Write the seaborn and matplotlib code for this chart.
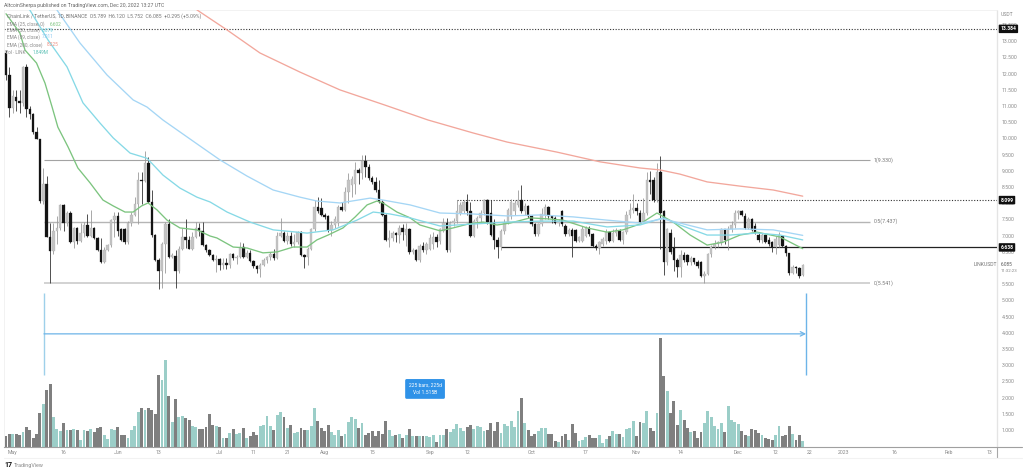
import pandas as pd
import matplotlib.pyplot as plt
from matplotlib.lines import Line2D
import seaborn as sns

# LINK/USDT daily candles
opens = [12.63,11.96,10.93,11.28,11.15,11.1,12.2,10.9,10.77,10.19,
 9.99,8.08,8.6,6.95,6.53,7.15,7.25,7.95,7.4,7.7,
 6.8,7.23,6.85,7.07,7.33,7.0,7.23,6.93,6.55,6.2,
 6.57,6.7,7.48,7.6,7.2,7.2,6.8,7.4,7.65,7.97,
 8.72,8.68,9.25,8.03,7.02,6.25,5.92,6.74,7.35,6.35,
 6.38,5.91,6.6,6.97,6.87,6.6,6.97,7.23,7.15,6.7,
 6.55,6.41,6.25,6.27,6.1,6.15,6.08,6.42,6.3,6.33,
 6.65,6.33,6.48,6.22,6.05,5.97,6.1,6.25,6.33,6.45,
 6.3,7.0,7.08,6.85,7.0,6.75,6.8,7.1,6.4,6.35,
 6.6,7.2,7.9,7.85,7.64,7.6,7.18,7.33,7.38,7.9,
 7.79,8.36,8.55,8.6,9.03,8.93,9.3,9.13,8.77,8.67,
 8.41,8.05,7.64,6.87,6.92,7.07,7.02,7.23,7.02,7.2,
 6.5,6.55,6.25,6.68,6.56,6.6,6.75,6.97,6.85,7.15,
 7.38,6.56,7.4,7.45,7.7,7.75,8.05,7.75,6.99,7.44,
 7.55,7.7,8.1,7.7,7.4,6.87,6.66,7.13,7.4,7.6,
 7.75,7.95,8.1,7.75,7.92,7.6,7.35,7.06,7.35,7.65,
 7.88,7.6,7.55,7.4,7.75,7.3,7.05,7.18,7.18,6.83,
 6.85,7.0,7.25,7.05,6.68,6.62,6.75,6.85,7.1,6.85,
 7.07,7.13,6.87,7.1,7.64,7.79,7.85,7.69,7.43,7.69,
 8.72,8.72,8.1,8.98,7.75,6.2,7.07,6.61,6.25,6.04,
 6.4,6.4,6.2,6.3,6.2,6.2,5.75,5.82,6.43,6.66,
 6.75,6.78,7.2,6.87,7.22,7.33,7.7,7.75,7.62,7.25,
 7.5,7.3,7.02,6.87,7.02,6.88,6.8,6.66,6.7,7.0,
 6.68,6.46,5.84,6.02,5.99,5.789]
closes = [11.96,10.93,11.3,11.15,11.1,12.2,10.9,10.77,10.19,9.99,
 8.08,8.6,6.95,6.53,7.15,7.25,7.95,7.4,7.7,6.8,
 7.23,6.85,7.07,7.33,7.0,7.23,6.93,6.55,6.2,6.57,
 6.7,7.48,7.6,7.15,6.87,6.8,7.4,7.65,7.97,8.72,
 8.68,9.25,8.03,7.02,6.25,5.92,6.74,7.35,6.35,6.38,
 5.91,6.6,6.97,6.87,6.6,6.97,7.23,7.15,6.7,6.55,
 6.41,6.25,6.27,6.1,6.15,6.08,6.42,6.3,6.33,6.65,
 6.33,6.48,6.22,6.05,5.97,6.1,6.25,6.33,6.45,6.3,
 7.0,7.08,6.85,7.0,6.75,6.8,7.1,6.4,6.35,6.6,
 7.2,7.9,7.75,7.64,7.57,7.18,7.33,7.5,7.9,7.79,
 8.36,8.72,8.74,9.03,8.93,9.3,9.13,8.77,8.67,8.41,
 8.05,7.64,6.87,6.92,7.07,7.02,7.23,7.1,7.2,6.5,
 6.55,6.25,6.68,6.56,6.75,6.92,6.97,6.8,7.2,7.38,
 6.56,7.4,7.45,7.75,7.95,8.05,7.75,6.99,7.44,7.55,
 7.7,8.1,7.42,7.03,6.87,6.66,7.13,7.4,7.8,8.05,
 8.0,8.1,7.75,7.92,7.6,7.35,7.06,7.35,7.68,7.88,
 7.6,7.55,7.4,7.42,7.35,7.05,7.18,6.99,6.83,6.95,
 7.2,7.25,7.05,6.68,6.62,6.8,6.9,7.1,6.85,7.07,
 7.18,6.87,7.1,7.64,7.79,7.85,7.75,7.43,7.69,8.72,
 8.65,8.1,8.98,7.7,6.2,7.2,6.51,6.25,6.04,6.4,
 6.25,6.2,6.3,6.2,6.05,5.75,5.82,6.43,6.66,6.75,
 6.78,7.2,6.87,7.22,7.33,7.7,7.75,7.65,7.25,7.5,
 7.17,7.12,6.87,7.02,6.82,6.75,6.66,6.9,7.02,6.68,
 6.46,5.84,6.02,5.99,5.76,6.085]
highs = [12.72,12.2,11.5,11.5,11.5,12.25,12.3,11.0,10.8,10.35,
 9.99,9.1,8.85,7.4,7.4,7.6,7.98,7.98,7.75,7.75,
 7.27,7.27,7.4,7.43,7.66,7.8,7.27,6.97,6.92,6.65,
 6.75,7.53,7.73,7.73,7.25,7.25,7.45,7.73,8.2,8.98,
 8.98,9.6,9.42,8.4,7.05,6.3,6.8,7.43,7.5,6.48,
 6.55,6.67,7.23,7.5,7.0,7.12,7.43,7.4,7.43,6.75,
 6.6,6.45,6.4,6.3,6.3,6.3,6.47,6.48,6.4,6.8,
 6.78,6.55,6.55,6.25,6.1,6.15,6.3,6.38,6.5,6.6,
 7.1,7.55,7.15,7.1,7.1,7.05,7.15,7.15,6.45,6.65,
 7.25,8.1,8.2,8.15,7.7,7.65,7.45,7.6,7.95,8.05,
 8.5,8.93,8.85,9.28,9.1,9.5,9.5,9.2,8.85,8.8,
 8.72,8.1,7.68,7.18,7.13,7.1,7.33,7.35,7.4,7.25,
 6.62,6.6,6.75,6.82,6.82,7.05,7.1,7.05,7.25,7.55,
 7.55,7.45,7.55,8.1,8.05,8.1,8.3,8.05,7.5,7.6,
 7.8,8.12,8.12,8.1,7.5,6.95,7.2,7.5,7.85,8.12,
 8.1,8.4,8.55,8.0,7.95,7.65,7.4,7.4,7.85,7.97,
 7.92,7.65,7.6,7.5,7.8,7.35,7.25,7.25,7.2,7.0,
 7.3,7.3,7.3,7.08,6.75,6.85,6.95,7.2,7.15,7.2,
 7.25,7.2,7.15,7.75,8.0,8.3,8.0,7.8,8.15,8.98,
 9.0,8.8,9.25,9.45,7.8,7.25,7.2,6.95,6.3,6.55,
 6.5,6.45,6.38,6.32,6.25,6.22,5.9,6.48,6.7,6.88,
 6.85,7.25,7.22,7.3,7.45,7.8,7.8,7.8,7.7,7.58,
 7.55,7.4,7.1,7.08,7.05,6.95,6.85,7.0,7.1,7.0,
 6.72,6.48,6.08,6.05,6.02,6.12]
lows = [11.8,10.65,10.8,10.85,10.8,11.0,10.65,10.6,10.13,9.97,
 8.0,7.98,6.95,5.54,6.45,6.75,7.17,7.15,7.3,6.78,
 6.63,6.75,6.82,6.95,6.97,6.95,6.9,6.53,6.17,6.17,
 6.53,6.66,6.95,7.0,6.85,6.75,6.73,7.3,7.6,7.35,
 7.97,8.65,8.0,6.97,6.23,5.36,5.4,5.85,6.3,6.3,
 5.4,5.85,6.55,6.62,6.58,6.57,6.92,7.0,6.67,6.5,
 6.38,6.22,5.89,5.95,5.98,5.98,6.0,6.25,6.12,6.3,
 6.3,6.3,6.18,6.0,5.85,5.72,6.05,6.15,6.25,6.25,
 6.28,6.95,6.8,6.75,6.68,6.65,6.75,6.38,6.0,6.1,
 6.55,7.15,7.7,7.6,7.5,7.1,7.0,7.25,7.3,7.75,
 7.75,8.0,8.2,8.3,8.6,8.75,8.8,8.72,8.6,8.35,
 8.0,7.6,6.85,6.66,6.85,6.8,6.78,6.87,6.68,6.45,
 6.45,6.22,6.2,6.5,6.45,6.55,6.6,6.65,6.75,7.1,
 6.5,6.5,7.3,7.38,7.65,7.7,7.65,6.97,6.95,7.25,
 7.4,7.65,7.35,7.0,6.6,6.3,6.55,7.05,7.35,7.5,
 7.65,7.9,7.7,7.65,7.55,7.3,7.0,7.0,7.3,7.5,
 7.5,7.4,7.35,7.3,7.3,7.0,7.0,6.33,6.8,6.8,
 6.8,6.95,7.0,6.65,6.55,6.45,6.68,6.75,6.82,6.82,
 7.0,6.85,6.75,7.05,7.55,7.7,7.65,7.4,7.4,7.65,
 8.3,8.05,8.05,6.6,5.8,6.1,6.45,5.9,5.72,5.72,
 6.2,6.1,6.1,6.12,6.0,5.72,5.55,5.8,6.35,6.6,
 6.65,6.72,6.75,6.56,7.1,7.25,7.5,7.6,7.2,7.2,
 7.15,7.05,6.8,6.78,6.78,6.68,6.5,6.45,6.65,6.65,
 6.38,5.8,5.82,5.85,5.7,5.752]
# volume in millions
volumes = [3.6,4.4,4.2,4.2,4.0,4.9,6.6,5.6,2.9,4.2,
 11.3,14.2,18.9,21.1,10.0,5.9,5.2,8.0,5.6,5.6,
 6.1,5.6,2.4,5.8,5.3,6.1,4.9,6.3,6.6,3.9,
 2.8,6.1,5.6,6.8,4.1,3.9,3.1,5.6,7.0,11.8,
 13.0,12.4,12.9,12.2,11.1,24.1,22.4,29.1,17.0,8.2,
 16.1,10.0,10.4,9.7,8.9,6.9,6.8,5.9,5.9,6.7,
 10.9,7.2,7.0,6.8,3.0,3.0,4.8,6.0,4.3,4.6,
 6.3,2.9,3.6,5.1,3.9,6.9,7.2,10.2,7.1,5.6,
 10.7,11.8,9.9,6.4,7.2,4.6,5.1,6.2,5.8,5.6,
 7.1,12.9,8.7,6.4,5.3,7.4,4.9,4.0,5.6,3.6,
 4.4,8.4,10.1,9.2,6.3,8.1,3.9,4.6,5.3,3.7,
 5.3,4.2,8.8,5.6,3.7,4.0,4.4,2.9,4.0,6.1,
 3.6,3.7,3.7,3.7,3.8,3.4,4.1,1.8,4.1,4.1,
 5.9,5.0,6.0,7.6,6.2,5.2,6.7,7.3,6.1,7.1,
 6.8,5.2,5.7,8.0,5.3,8.4,4.7,7.8,7.0,8.7,
 6.7,12.1,16.2,7.9,5.7,3.6,4.3,5.2,6.4,6.3,
 4.2,4.2,2.1,1.6,3.7,4.2,2.3,7.6,4.6,2.0,
 2.2,3.3,4.0,3.0,3.1,4.0,1.3,2.7,3.6,5.4,
 4.3,4.4,3.3,6.0,6.3,8.7,3.8,8.4,8.1,12.1,
 6.4,5.4,11.4,36.3,23.8,18.8,11.2,15.3,7.4,12.3,
 9.1,6.4,5.0,5.4,3.0,5.1,8.0,12.1,10.1,6.9,
 5.9,8.1,5.1,13.7,9.1,8.4,7.8,5.2,3.9,3.6,
 5.9,5.6,4.7,3.9,3.1,2.7,2.2,4.0,7.0,3.6,
 4.1,7.1,4.3,2.3,4.1,1.85]

# moving averages read at points along each line
ema25_x = [0,4.1,5.6,9,11.5,13.6,15.3,18.3,21.2,24.8,28.6,31.6,35.1,37.5,40,41.9,44.5,47.5,51.3,56.3,60.2,62.2,67,71.1,75.8,80,84.7,88.8,91.7,95,99.4,103,106.5,109.4,111.2,115.3,119.2,122.1,128,131.9,136.3,140.7,144.8,148.7,154.6,159.6,164.3,171.4,177.3,182,187,192,196.8,201.8,206.8,211.5,216.5,221.5,228.3,235]
ema25_y = [13.85,13.26,12.73,12.33,11.71,10.97,10.35,9.74,9.09,8.63,8.1,7.92,7.73,7.73,7.92,8.01,7.8,7.48,7.24,7.18,6.99,6.93,6.65,6.62,6.47,6.5,6.65,6.65,6.87,7.02,7.24,7.58,7.95,8.07,8.01,7.73,7.55,7.33,7.15,7.24,7.36,7.42,7.33,7.39,7.55,7.52,7.48,7.24,7.11,7.18,7.36,7.7,7.42,7.02,6.71,6.8,7.02,7.11,6.96,6.6]
ema50_x = [7,12.4,18,22.7,27.7,31.6,36.6,41.6,46.3,51.3,56.3,60.2,65.2,72,78.8,88.8,96.5,103.5,108.3,113.3,119.2,128,137.8,147.8,157.5,167.3,177.3,187,193.8,198.8,206.8,213.6,221.5,228.3,235]
ema50_y = [13.97,13.04,12.21,11.1,10.48,10.02,9.55,9.39,8.87,8.47,8.19,8.04,7.73,7.42,7.18,7.08,7.18,7.48,7.73,7.67,7.55,7.3,7.36,7.42,7.45,7.45,7.27,7.33,7.55,7.33,7.02,7.02,7.08,7.02,6.87]
ema100_x = [15,21.8,29.8,37.5,41.6,46.3,57.2,63.1,71.1,78.8,86.7,91.7,98.5,107.4,111.2,119.2,128,137.8,147.8,157.5,167.3,177.3,187,193.8,198.8,206.8,216.5,226.3,235]
ema100_y = [13.97,12.95,11.96,11.19,10.97,10.57,9.77,9.34,8.84,8.41,8.19,8.07,8.01,8.16,8.1,7.95,7.7,7.67,7.61,7.64,7.58,7.48,7.39,7.52,7.39,7.18,7.21,7.18,7.01]
ema200_x = [56.3,65.2,74.9,86.7,98.5,111.8,124.5,137.8,147.8,162.5,175.2,187,192.9,198.8,206.8,216.5,226.3,235]
ema200_y = [13.97,13.35,12.64,12.05,11.5,11.03,10.57,10.17,9.89,9.58,9.28,9.09,9.03,8.9,8.66,8.53,8.41,8.22]

tick_dates = ["2022-05-01","2022-05-16","2022-06-01","2022-06-13","2022-07-01","2022-07-11","2022-07-21","2022-08-01","2022-08-15","2022-09-01","2022-09-12","2022-10-01","2022-10-17","2022-11-01","2022-11-14","2022-12-01","2022-12-12","2022-12-22","2023-01-01","2023-01-16","2023-02-01","2023-02-13"]
tick_labels = ["May","16","Jun","13","Jul","11","21","Aug","15","Sep","12","Oct","17","Nov","14","Dec","12","22","2023","16","Feb","13"]
# 6.000 sits under the last price label on the scale
price_ticks = [x * 0.5 for x in range(2, 28) if x != 12]

df = pd.DataFrame({"open": opens, "close": closes, "high": highs, "low": lows, "vol": volumes})
df["bar"] = range(len(df))
df["up"] = df["close"] >= df["open"]

sns.set_style("white")
plt.rcParams["font.family"] = ["Roboto", "DejaVu Sans"]

fig = plt.figure(figsize=(10.24, 4.72), dpi=100)
rect = [4 / 1024, 25 / 472, 993 / 1024, 437 / 472]

# volume underneath
ax_vol = fig.add_axes(rect)
sns.barplot(data=df, x="bar", y="vol", hue="up", palette={True: "#93d6cf", False: "#7f7f7f"},
            native_scale=True, dodge=False, width=0.85, legend=False, ax=ax_vol, linewidth=0)
ax_vol.set_xlim(-0.59, 292.3)
ax_vol.set_ylim(0, 145.7)
ax_vol.axis("off")

ax = fig.add_axes(rect, zorder=2)
ax.patch.set_alpha(0)
ax.set_xlim(-0.59, 292.3)
ax.set_ylim(0.478, 13.966)

# levels
ax.hlines(9.33, 11.2, 254.9, color="#a3a3a3", lw=0.8)
ax.hlines(7.437, 11.2, 254.9, color="#b5b5b5", lw=1.0)
ax.hlines(5.541, 11.2, 254.9, color="#cbcbcb", lw=1.2)
ax.hlines(6.638, 146, 292.3, color="#222222", lw=0.9)
ax.hlines(8.099, 133, 292.3, color="#333333", lw=0.8, linestyles=(0, (1, 1.5)))
ax.hlines(13.384, -0.59, 292.3, color="#333333", lw=0.8, linestyles=(0, (1, 1.5)))
ax.text(255.8, 9.33, "1(9.330)", fontsize=3.8, color="#777777", va="center")
ax.text(255.8, 7.437, "0.5(7.437)", fontsize=3.8, color="#777777", va="center")
ax.text(255.8, 5.541, "0(5.541)", fontsize=3.8, color="#777777", va="center")

# candles
for up, part in df.groupby("up"):
    body = "#c4c4c4" if up else "#141414"
    wick = "#9a9a9a" if up else "#333333"
    ax.vlines(part["bar"], part["low"], part["high"], color=wick, lw=0.6, zorder=3)
    ax.bar(part["bar"], (part["close"] - part["open"]).abs().clip(lower=0.04),
           bottom=part[["open", "close"]].min(axis=1), width=0.72,
           color=body, edgecolor="#a8a8a8" if up else body, linewidth=0.2, zorder=4)

sns.lineplot(x=ema25_x, y=ema25_y, color="#7cc47f", lw=0.95, ax=ax, zorder=5)
sns.lineplot(x=ema50_x, y=ema50_y, color="#86d9e6", lw=0.95, ax=ax, zorder=5)
sns.lineplot(x=ema100_x, y=ema100_y, color="#a5d6f5", lw=0.95, ax=ax, zorder=5)
sns.lineplot(x=ema200_x, y=ema200_y, color="#f2a79c", lw=0.95, ax=ax, zorder=5)

# date range tool
ax.vlines(11.2, 2.7, 5.24, color="#9ed0ea", lw=1.0)
ax.vlines(236, 2.7, 5.24, color="#6db4e8", lw=1.0)
ax.annotate("", xy=(236, 3.97), xytext=(11.2, 3.97),
            arrowprops=dict(arrowstyle="->", color="#6db4e8", lw=0.9, shrinkA=0, shrinkB=0, mutation_scale=8))
ax.text(123.6, 2.27, "225 bars, 225d\nVol 1.515B", fontsize=3.6, color="white", ha="center", va="center",
        linespacing=1.7, bbox=dict(boxstyle="round,pad=0.7,rounding_size=0.3", fc="#2f92e8", ec="none"), zorder=7)

# axes
dates = pd.to_datetime(tick_dates)
ax.set_xticks((dates - pd.Timestamp("2022-04-29")).days, tick_labels)
ax.yaxis.tick_right()
ax.set_yticks(price_ticks, [f"{p:.3f}" for p in price_ticks])
ax.tick_params(axis="x", length=0, pad=2.5, labelsize=3.7, labelcolor="#8a8a8a")
ax.tick_params(axis="y", length=0, pad=3.5, labelsize=3.7, labelcolor="#8a8a8a")
for name, side in ax.spines.items():
    side.set_color("#f0f0f0")
    side.set_linewidth(0.6)
ax.spines["bottom"].set_color("#a0a0a0")
ax.spines["bottom"].set_linewidth(0.8)

# price tags on the scale
for level in [13.384, 8.099, 6.638]:
    ax.text(1.0035, level, f"{level:.3f}", transform=ax.get_yaxis_transform(), fontsize=3.6, color="white",
            fontweight="bold", va="center", ha="left", clip_on=False, zorder=8,
            bbox=dict(boxstyle="round,pad=0.35,rounding_size=0.15", fc="#101010", ec="none"))


def px_text(x, y, s, **kw):
    kw.setdefault("fontsize", 3.7)
    kw.setdefault("color", "#8a8a8a")
    fig.text(x / 1024, 1 - y / 472, s, va="center", **kw)


px_text(4, 5, "AltcoinSherpa published on TradingView.com, Dec 20, 2022 13:27 UTC", color="#666666")
px_text(7, 16, "ChainLink / TetherUS, 1D, BINANCE  O5.789  H6.120  L5.752  C6.085  +0.295 (+5.09%)", color="#777777")
px_text(7, 24, "EMA (25, close, 0)", fontsize=3.4)
px_text(50, 24, "6.602", fontsize=3.4, color="#7cc47f")
px_text(7, 30, "EMA (50, close)", fontsize=3.4)
px_text(42, 30, "6.879", fontsize=3.4, color="#65cddd")
px_text(7, 37, "EMA (89, close)", fontsize=3.4)
px_text(42, 37, "7.011", fontsize=3.4, color="#86c5f0")
px_text(7, 45, "EMA (200, close)", fontsize=3.4)
px_text(47, 45, "8.225", fontsize=3.4, color="#ee8f80")
px_text(5, 52, "Vol · LINK", fontsize=3.4)
px_text(33, 52, "1.849M", fontsize=3.4, color="#5cc0b5")
px_text(1001, 15, "USDT")
px_text(974, 265, "LINKUSDT", color="#777777")
px_text(1001, 264, "6.085", fontsize=3.4, color="#555555")
px_text(1001, 271, "11:32:23", fontsize=3.2)
px_text(4, 465, "17", fontsize=5, color="#111111", fontweight="bold")
px_text(14, 465, "TradingView", fontsize=3.9)

# frame pieces outside the pane
fig.add_artist(Line2D([997 / 1024, 997 / 1024], [1 - 10 / 472, 1 - 458 / 472], color="#a8a8a8", lw=0.8))
fig.add_artist(Line2D([997 / 1024, 1022 / 1024], [1 - 447 / 472, 1 - 447 / 472], color="#a0a0a0", lw=0.8))
fig.add_artist(Line2D([4 / 1024, 1022 / 1024], [1 - 458 / 472, 1 - 458 / 472], color="#f2f2f2", lw=0.8))

fig.savefig("out.png", dpi=100)
